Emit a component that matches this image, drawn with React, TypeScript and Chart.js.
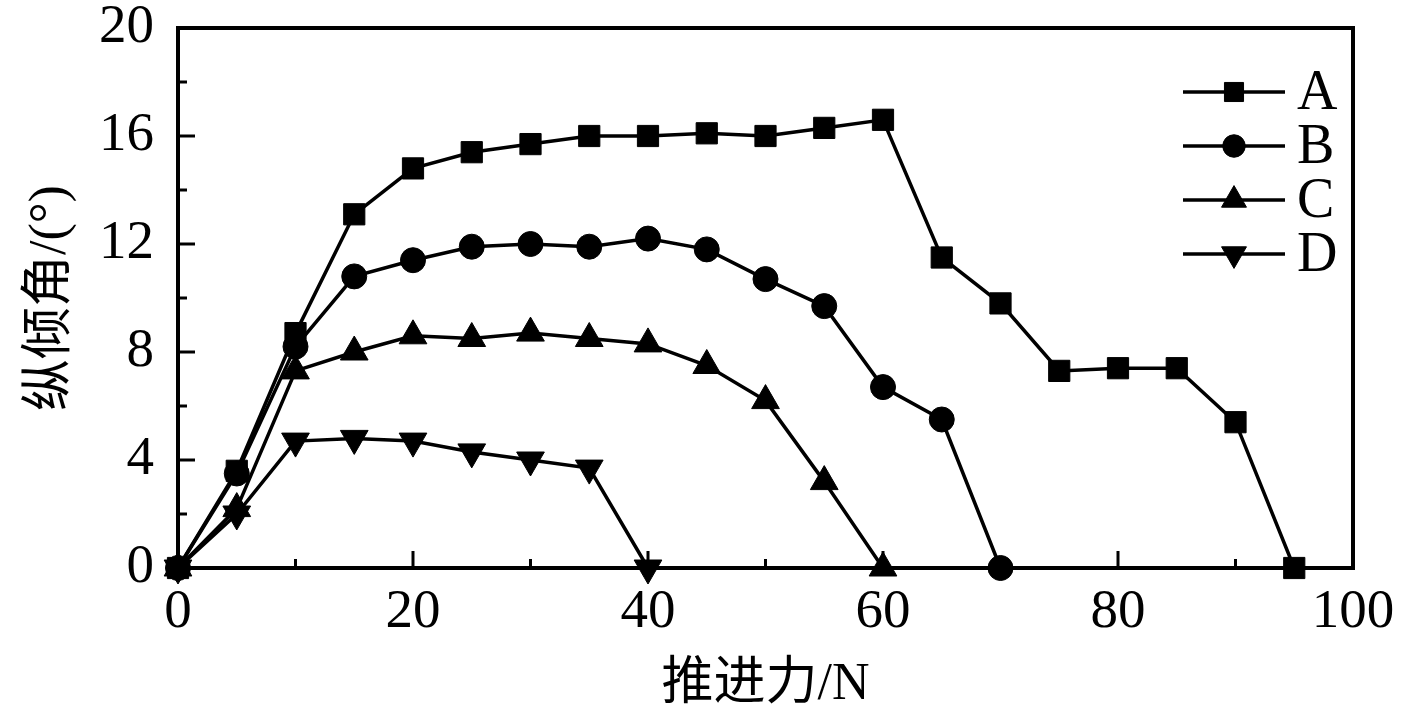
import React, { useEffect, useRef } from "react";
import { Chart, registerables } from "chart.js";
import { drawPoint } from "chart.js/helpers";

Chart.register(...registerables);

const thrustA = [0, 5, 10, 15, 20, 25, 30, 35, 40, 45, 50, 55, 60, 65, 70, 75, 80, 85, 90, 95];
const angleA = [0, 3.6, 8.7, 13.1, 14.8, 15.4, 15.7, 16.0, 16.0, 16.1, 16.0, 16.3, 16.6, 11.5, 9.8, 7.3, 7.4, 7.4, 5.4, 0];
const thrustB = [0, 5, 10, 15, 20, 25, 30, 35, 40, 45, 50, 55, 60, 65, 70];
const angleB = [0, 3.5, 8.2, 10.8, 11.4, 11.9, 12.0, 11.9, 12.2, 11.8, 10.7, 9.7, 6.7, 5.5, 0];
const thrustC = [0, 5, 10, 15, 20, 25, 30, 35, 40, 45, 50, 55, 60];
const angleC = [0, 2.2, 7.3, 8.0, 8.6, 8.5, 8.7, 8.5, 8.3, 7.5, 6.2, 3.2, 0];
const thrustD = [0, 5, 10, 15, 20, 25, 30, 35, 40];
const angleD = [0, 2.0, 4.7, 4.8, 4.7, 4.3, 4.0, 3.7, 0];

const seriesLabels = ["A", "B", "C", "D"];
const xMajorTicks = [0, 20, 40, 60, 80, 100];
const xMinorTicks = [10, 30, 50, 70, 90];
const yMajorTicks = [0, 4, 8, 12, 16, 20];
const yMinorTicks = [2, 6, 10, 14, 18];
const xTitle = "推进力/N";
const yTitle = "纵倾角/(°)";

const FONT = '"Liberation Serif", "Noto Sans CJK SC", serif';

const toPoints = (xs: number[], ys: number[]) => xs.map((x, i) => ({ x, y: ys[i] }));

const markerStyles = [
  { pointStyle: "rect", radius: 15, rotation: 0 },
  { pointStyle: "circle", radius: 12.5, rotation: 0 },
  { pointStyle: "triangle", radius: 16, rotation: 0 },
  { pointStyle: "triangle", radius: 16, rotation: 180 },
];

const framePlugin = {
  id: "frameTicks",
  beforeDatasetsDraw(chart: any) {
    const { ctx, chartArea, scales } = chart;
    const { left, right, top, bottom } = chartArea;
    ctx.save();
    ctx.strokeStyle = "#000";
    ctx.lineWidth = 4;
    ctx.strokeRect(left, top, right - left, bottom - top);
    ctx.lineWidth = 3;
    const xs = scales.x;
    const ys = scales.y;
    const tick = (x1: number, y1: number, x2: number, y2: number) => {
      ctx.beginPath();
      ctx.moveTo(x1, y1);
      ctx.lineTo(x2, y2);
      ctx.stroke();
    };
    xMajorTicks.forEach((v) => {
      const p = xs.getPixelForValue(v);
      tick(p, bottom, p, bottom - 17);
    });
    xMinorTicks.forEach((v) => {
      const p = xs.getPixelForValue(v);
      tick(p, bottom, p, bottom - 9);
    });
    yMajorTicks.forEach((v) => {
      const p = ys.getPixelForValue(v);
      tick(left, p, left + 17, p);
    });
    yMinorTicks.forEach((v) => {
      const p = ys.getPixelForValue(v);
      tick(left, p, left + 9, p);
    });
    ctx.restore();
  },
};

const legendPlugin = {
  id: "lineLegend",
  afterDraw(chart: any) {
    const { ctx, chartArea } = chart;
    const x0 = chartArea.right - 170;
    const x1 = chartArea.right - 68;
    const xm = (x0 + x1) / 2;
    const textX = chartArea.right - 56;
    ctx.save();
    chart.data.datasets.forEach((ds: any, i: number) => {
      const y = chartArea.top + 64 + i * 54;
      ctx.strokeStyle = "#000";
      ctx.fillStyle = "#000";
      ctx.lineWidth = 3.5;
      ctx.beginPath();
      ctx.moveTo(x0, y);
      ctx.lineTo(x1, y);
      ctx.stroke();
      const m = markerStyles[i];
      ctx.lineWidth = 1;
      drawPoint(ctx, { pointStyle: m.pointStyle as any, rotation: m.rotation, radius: m.radius * 0.9, borderWidth: 1 }, xm, y);
      ctx.font = `56px ${FONT}`;
      ctx.textBaseline = "middle";
      ctx.textAlign = "left";
      ctx.fillText(ds.label, textX, y + 2);
    });
    ctx.restore();
  },
};

export default function App() {
  const canvasRef = useRef<HTMLCanvasElement | null>(null);

  useEffect(() => {
    const canvas = canvasRef.current;
    if (!canvas) return;
    const series = [
      toPoints(thrustA, angleA),
      toPoints(thrustB, angleB),
      toPoints(thrustC, angleC),
      toPoints(thrustD, angleD),
    ];
    const chart = new Chart(canvas, {
      type: "line",
      data: {
        datasets: series.map((data, i) => ({
          label: seriesLabels[i],
          data,
          borderColor: "#000",
          backgroundColor: "#000",
          borderWidth: 3.5,
          pointStyle: markerStyles[i].pointStyle as any,
          pointRadius: markerStyles[i].radius,
          pointRotation: markerStyles[i].rotation,
          pointBorderWidth: 1,
          pointBackgroundColor: "#000",
          pointBorderColor: "#000",
          tension: 0,
          clip: false as any,
        })),
      },
      options: {
        animation: false,
        responsive: false,
        maintainAspectRatio: false,
        layout: { padding: { top: 28, right: 64, left: 0, bottom: 0 } },
        plugins: {
          legend: { display: false },
          tooltip: { enabled: false },
        },
        scales: {
          x: {
            type: "linear",
            min: 0,
            max: 100,
            afterFit: (s: any) => {
              s.height = 157;
              s.paddingLeft = 0;
              s.paddingRight = 0;
            },
            grid: { display: false, drawTicks: false },
            border: { display: false },
            afterBuildTicks: (s: any) => {
              s.ticks = xMajorTicks.map((v) => ({ value: v }));
            },
            ticks: {
              color: "#000",
              font: { family: FONT, size: 55 },
              padding: 12,
              maxRotation: 0,
              autoSkip: false,
            },
            title: {
              display: true,
              text: xTitle,
              color: "#000",
              font: { family: FONT, size: 52 },
              padding: { top: 0, bottom: 8 },
            },
          },
          y: {
            type: "linear",
            min: 0,
            max: 20,
            afterFit: (s: any) => {
              s.width = 178;
              s.paddingTop = 0;
              s.paddingBottom = 0;
            },
            grid: { display: false, drawTicks: false },
            border: { display: false },
            afterBuildTicks: (s: any) => {
              s.ticks = yMajorTicks.map((v) => ({ value: v }));
            },
            ticks: {
              color: "#000",
              font: { family: FONT, size: 55 },
              padding: 24,
              autoSkip: false,
            },
            title: {
              display: true,
              text: yTitle,
              color: "#000",
              font: { family: FONT, size: 52 },
              padding: { top: 20, bottom: 0 },
            },
          },
        },
      },
      plugins: [framePlugin, legendPlugin],
    });
    return () => chart.destroy();
  }, []);

  return (
    <canvas
      ref={canvasRef}
      width={1417}
      height={725}
      style={{ position: "fixed", left: 0, top: 0, display: "block", background: "#fff" }}
    />
  );
}
